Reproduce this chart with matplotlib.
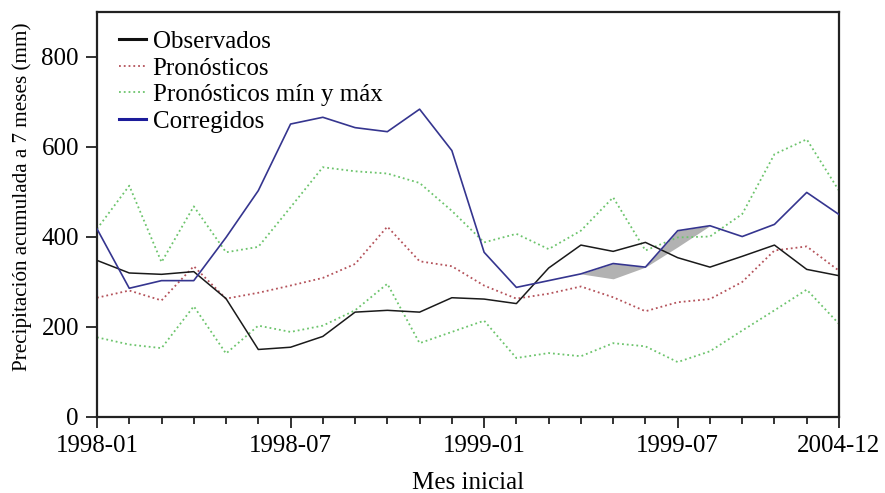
import numpy as np
import matplotlib
matplotlib.use('Agg')
import matplotlib.pyplot as plt

plt.rcParams['font.family'] = ['Liberation Serif', 'DejaVu Serif']

# 7-month accumulated precipitation (mm) by starting month
meses = np.arange(24)
tick_pos = [0, 6, 12, 18, 23]
tick_labels = ['1998-01', '1998-07', '1999-01', '1999-07', '2004-12']

observados = [348, 320, 317, 323, 263, 150, 155, 179, 233, 237, 233, 265,
              262, 252, 331, 382, 368, 388, 354, 333, 357, 382, 328, 314]
pronosticos = [265, 281, 259, 335, 263, 276, 292, 309, 340, 423, 346, 335,
               292, 263, 274, 290, 266, 235, 255, 262, 300, 370, 379, 325]
pron_max = [418, 514, 344, 468, 366, 378, 466, 555, 546, 541, 520, 458,
            388, 407, 373, 414, 488, 370, 399, 401, 451, 584, 617, 503]
pron_min = [177, 161, 153, 246, 141, 203, 189, 203, 237, 296, 164, 189,
            214, 131, 142, 135, 164, 157, 122, 146, 192, 237, 283, 207]
corregidos = [418, 286, 303, 303, 399, 503, 651, 666, 643, 634, 684, 592,
              366, 288, 303, 318, 341, 333, 414, 425, 401, 428, 499, 450]

# band between corrected series and its alternate run, Apr-Aug 1999
banda_idx = [15, 16, 17, 18, 19]
banda_inf = [318, 307, 333, 378, 425]

fig = plt.figure(figsize=(8.85, 4.93), dpi=100)
ax = fig.add_axes([0.1096, 0.1542, 0.8384, 0.8215])

ax.fill_between(banda_idx, banda_inf, [corregidos[i] for i in banda_idx],
                color='#b2b2b2', lw=0, zorder=1)
ax.plot(meses, pron_max, ls=':', color='#6cc46c', lw=1.3, zorder=2)
ax.plot(meses, pron_min, ls=':', color='#6cc46c', lw=1.3, zorder=2)
ax.plot(meses, pronosticos, ls=':', color='#b4525a', lw=1.3, zorder=2)
ax.plot(meses, observados, color='#1a1a1a', lw=1.1, zorder=3)
ax.plot(meses, corregidos, color='#35358f', lw=1.2, zorder=3)

h = [plt.Line2D([], [], color='#111111', lw=2.2),
     plt.Line2D([], [], color='#b4525a', lw=1.3, ls=':'),
     plt.Line2D([], [], color='#6cc46c', lw=1.3, ls=':'),
     plt.Line2D([], [], color='#1c1c9a', lw=2.2)]
ax.legend(h, ['Observados', 'Pronósticos', 'Pronósticos mín y máx', 'Corregidos'],
          loc='upper left', bbox_to_anchor=(0.006, 0.997), frameon=False,
          fontsize=18, handlelength=1.1, handletextpad=0.25,
          labelspacing=0.16, borderpad=0.2)

ax.set_xlim(0, 23)
ax.set_ylim(0, 900)
ax.set_yticks([0, 200, 400, 600, 800])
ax.set_xticks(tick_pos)
ax.set_xticklabels(tick_labels)
ax.set_xticks(meses, minor=True)
ax.tick_params(axis='both', which='major', labelsize=18, direction='out',
               length=8, width=1.3, color='#222222', pad=5)
ax.tick_params(axis='x', which='minor', direction='out', length=5, width=1.3,
               color='#222222')
for s in ax.spines.values():
    s.set_linewidth(1.6)
    s.set_color('#222222')

ax.set_ylabel('Precipitación acumulada a 7 meses (mm)', fontsize=15.2)
ax.yaxis.set_label_coords(-0.088, 0.545)
ax.set_xlabel('Mes inicial', fontsize=18)
ax.xaxis.set_label_coords(0.5, -0.135)

fig.savefig('out.png', dpi=100)
